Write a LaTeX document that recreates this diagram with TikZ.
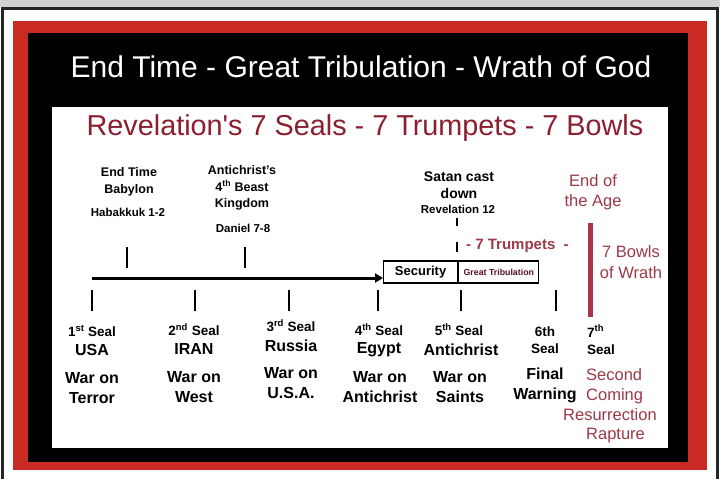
\documentclass[tikz,border=0pt]{standalone}
\usepackage{fontspec}
\setmainfont{Liberation Sans}
\usepackage{xcolor}
\usetikzlibrary{arrows.meta,positioning}
\definecolor{framered}{HTML}{C92A22}
\definecolor{headred}{HTML}{8C1F2F}
\definecolor{wrathred}{HTML}{9C3A47}
\definecolor{barred}{HTML}{A83646}
\definecolor{topgray}{HTML}{D2D2D2}
\newcommand{\ord}[1]{\textsuperscript{#1}}
\tikzset{
  banner/.style={
    text=white,
    font=\fontsize{30}{34}\selectfont,
    inner sep=0pt
  },
  subbanner/.style={
    text=headred,
    font=\fontsize{28.8}{32}\selectfont,
    inner sep=0pt
  },
  eventlabel/.style={
    align=center,
    font=\bfseries\fontsize{12.5}{16.5}\selectfont,
    inner sep=0pt
  },
  reflabel/.style={
    align=center,
    font=\bfseries\fontsize{11.5}{14}\selectfont,
    inner sep=0pt
  },
  seallabel/.style={
    align=center,
    font=\bfseries\fontsize{13.5}{17.5}\selectfont,
    inner sep=0pt
  },
  biglabel/.style={
    align=center,
    font=\bfseries\fontsize{16}{20}\selectfont,
    inner sep=0pt
  },
  wrathlabel/.style={
    text=wrathred,
    align=center,
    font=\fontsize{16.5}{20.5}\selectfont,
    inner sep=0pt
  },
  phase/.style={
    draw,
    line width=1.2pt,
    minimum height=22pt,
    inner sep=0pt,
    anchor=west
  },
  ticklines/.style={line width=2pt},
  timeline/.style={-{Triangle[length=8pt,width=9pt]},line width=3pt}
}

\begin{document}
\begin{tikzpicture}[x=1pt,y=-1pt]
  \useasboundingbox (0,0) rectangle (720,479);
  % frame
  \fill[topgray] (0,0) rectangle (720,7);
  \draw[line width=3pt,black!85] (2,500) -- (2,8.5) -- (717,8.5) -- (717,500);
  \fill[framered] (13,21) rectangle (707,470);
  \fill[black] (28,33) rectangle (688,462);
  \fill[white] (52,107) rectangle (668,448);

  \node[banner] (title) at (361,67) {End Time - Great Tribulation - Wrath of God};
  \node[subbanner] (subtitle) at (365,128) {Revelation\textquotesingle s 7 Seals - 7 Trumpets - 7 Bowls};

  % events above the line
  \node[eventlabel] (babylon) at (129,182) {End Time\\Babylon};
  \node[reflabel] (habakkuk) at (128,212) {Habakkuk 1-2};
  \node[eventlabel] (beast) at (242,188) {Antichrist's\\4\ord{th} Beast\\Kingdom};
  \node[reflabel] (daniel) at (243,228) {Daniel 7-8};
  \node[eventlabel,font=\bfseries\fontsize{14}{16.5}\selectfont] (satan) at (459,185) {Satan cast\\down};
  \node[reflabel] (rev) at (458,209) {Revelation 12};
  \node[wrathlabel] (endage) at (593,192) {End of\\the Age};
  \node[wrathlabel,font=\bfseries\fontsize{15}{18}\selectfont,anchor=west] (trumpets) at (466,246) {- 7 Trumpets \ -};
  \node[wrathlabel] (bowls) at (631,262) {7 Bowls\\of Wrath};

  % time line
  \node[phase,minimum width=74pt,font=\bfseries\fontsize{13}{15}\selectfont] (security) at (383,272) {Security};
  \node[phase,minimum width=80pt,text=headred!60!black,font=\bfseries\fontsize{8.8}{10}\selectfont] (tribulation) at (security.east) {Great Tribulation};
  \coordinate (start) at (92,278);
  \draw[timeline] (start) -- (start -| security.west);

  \draw[ticklines] (127,247) -- (127,268);
  \draw[ticklines] (245,247) -- (245,268);
  \draw[line width=1.6pt] (457,218) -- (457,226);
  \draw[line width=1.6pt] (457,242) -- (457,252);
  \fill[barred] (588,223) rectangle (592.5,317);
  \foreach \x in {92,195,289,378,461,556}
    \draw[ticklines] (\x,290) -- (\x,311);

  % seals
  \node[seallabel] (seal1) at (92,331) {1\ord{st} Seal};
  \node[biglabel] (usa) at (92,350) {USA};
  \node[biglabel] (war1) at (92,388) {War on\\Terror};
  \node[seallabel] (seal2) at (194,330) {2\ord{nd} Seal};
  \node[biglabel] (iran) at (194,349) {IRAN};
  \node[biglabel] (war2) at (194,387) {War on\\West};
  \node[seallabel] (seal3) at (291,326) {3\ord{rd} Seal};
  \node[biglabel] (russia) at (291,346) {Russia};
  \node[biglabel] (war3) at (291,383) {War on\\U.S.A.};
  \node[seallabel] (seal4) at (379,330) {4\ord{th} Seal};
  \node[biglabel] (egypt) at (379,350) {Egypt};
  \node[biglabel] (war4) at (380,387) {War on\\Antichrist};
  \node[seallabel] (seal5) at (459,330) {5\ord{th} Seal};
  \node[biglabel] (antichrist) at (461,350) {Antichrist};
  \node[biglabel] (war5) at (460,387) {War on\\Saints};
  \node[seallabel] (seal6) at (545,340) {6th\\Seal};
  \node[biglabel] (warning) at (545,385) {Final\\Warning};
  \node[seallabel,align=left,anchor=west] (seal7) at (587,340) {7\ord{th}\\Seal};
  \node[wrathlabel,align=left,anchor=west] (coming) at (586,386) {Second\\Coming};
  \node[wrathlabel] (resurrection) at (610,415) {Resurrection};
  \node[wrathlabel,anchor=west] (rapture) at (586,436) {Rapture};
\end{tikzpicture}
\end{document}
